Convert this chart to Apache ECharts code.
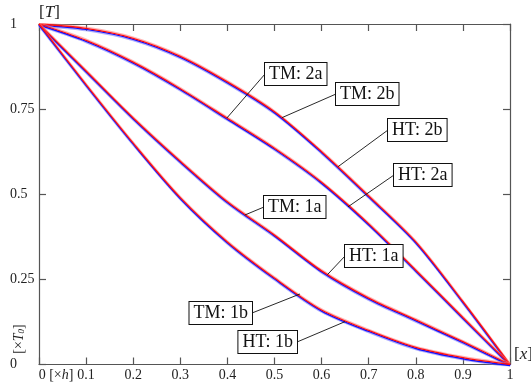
<!DOCTYPE html>
<html>
<head>
<meta charset="utf-8">
<script src="https://cdn.jsdelivr.net/npm/echarts@6/dist/echarts.min.js"></script>
<style>html,body{margin:0;padding:0;background:#fff}#c{width:531px;height:385px}</style>
</head>
<body>
<div id="c"></div>
<script>
// ---- data ----
const xValues = [0, 0.1, 0.2, 0.3, 0.4, 0.5, 0.6, 0.7, 0.8, 0.9, 1];
const curve2b = [1, 0.987, 0.958, 0.905, 0.830, 0.742, 0.625, 0.495, 0.360, 0.185, 0];
const curve2a = [1, 0.952, 0.888, 0.810, 0.723, 0.635, 0.535, 0.413, 0.277, 0.138, 0];
const curve1a = [1, 0.862, 0.724, 0.597, 0.478, 0.380, 0.275, 0.195, 0.131, 0.067, 0];
const curve1b = [1, 0.822, 0.650, 0.490, 0.360, 0.254, 0.160, 0.100, 0.050, 0.020, 0];
const xTicks = [0, 0.1, 0.2, 0.3, 0.4, 0.5, 0.6, 0.7, 0.8, 0.9, 1];
const yTicks = [0, 0.25, 0.5, 0.75, 1];
const labelTexts = ['TM: 2a', 'TM: 2b', 'HT: 2b', 'HT: 2a', 'TM: 1a', 'HT: 1a', 'TM: 1b', 'HT: 1b'];
const labelAnchorX = [0.399, 0.516, 0.635, 0.656, 0.437, 0.6125, 0.554, 0.650];
const labelAnchorY = [0.724, 0.725, 0.581, 0.463, 0.439, 0.264, 0.207, 0.126];

// ---- layout (pixels) for the label boxes: [attachX, attachY, side] ----
const boxLayout = [
  [265, 74, 'left'], [336, 94, 'left'], [388, 130, 'left'], [394, 175, 'left'],
  [264, 207, 'left'], [345, 256, 'left'], [252, 313, 'right'], [297, 342, 'right']
];

const FONT = '"Liberation Serif", "Times New Roman", serif';
const TICK_FS = 14;
const curves = [curve2b, curve2a, curve1a, curve1b];
const pairs = c => xValues.map((x, i) => [x, c[i]]);

const chart = echarts.init(document.getElementById('c'), null, {renderer: 'canvas'});

const axisCol = '#555';
const gridBase = {left: 39, width: 471, top: 24, height: 340.5};

function xAxisDef(gridIndex, pos, show, labels) {
  return {
    type: 'value', gridIndex, position: pos, min: 0, max: 1, interval: 0.1, show,
    axisLine: {show: true, onZero: false, lineStyle: {color: axisCol, width: 1.2}},
    axisTick: {show: true, inside: true, length: 7, lineStyle: {color: axisCol, width: 1.2}},
    splitLine: {show: false},
    axisLabel: labels ? {
      show: true, margin: 4, color: '#222', fontFamily: FONT, fontSize: TICK_FS,
      customValues: xTicks,
      formatter: v => v === 0 ? '{pad| }{z|0 [×}{zi|h}{z|]}' : (v === 1 ? '{z|1}' : '{z|' + v.toFixed(1) + '}'),
      rich: {
        pad: {width: 34, fontFamily: FONT, fontSize: TICK_FS},
        z: {fontFamily: FONT, fontSize: TICK_FS, color: '#222'},
        zi: {fontFamily: FONT, fontSize: TICK_FS, fontStyle: 'italic', color: '#222'}
      }
    } : {show: false}
  };
}
function yAxisDef(gridIndex, pos, show, labels) {
  return {
    type: 'value', gridIndex, position: pos, min: 0, max: 1, interval: 0.25, show,
    axisLine: {show: true, onZero: false, lineStyle: {color: axisCol, width: 1.2}},
    axisTick: {show: true, inside: true, length: 7, lineStyle: {color: axisCol, width: 1.2}},
    splitLine: {show: false},
    axisLabel: labels ? {
      show: true, margin: 29, align: 'left', color: '#222', fontFamily: FONT, fontSize: TICK_FS,
      padding: [5, 0, 0, 0],
      customValues: yTicks,
      formatter: v => String(v)
    } : {show: false}
  };
}

const series = [];
curves.forEach((c, k) => {
  series.push({
    name: 'TM ' + k, type: 'line', xAxisIndex: 3, yAxisIndex: 3, data: pairs(c),
    showSymbol: false, smooth: 0.3, silent: true, z: 2,
    lineStyle: {color: '#1010ff', width: 1.4, shadowColor: 'rgba(110,110,255,0.55)', shadowOffsetY: 1.2, shadowBlur: 0}
  });
});
curves.forEach((c, k) => {
  series.push({
    name: 'HT ' + k, type: 'line', xAxisIndex: 0, yAxisIndex: 0, data: pairs(c),
    showSymbol: false, smooth: 0.3, silent: true, z: 3,
    lineStyle: {color: '#ff1010', width: 1.3, shadowColor: 'rgba(255,120,120,0.55)', shadowOffsetY: -1.2, shadowBlur: 0}
  });
});

chart.setOption({
  animation: false,
  backgroundColor: '#fff',
  textStyle: {fontFamily: FONT},
  grid: [
    Object.assign({}, gridBase),
    Object.assign({}, gridBase, {top: 25})
  ],
  xAxis: [
    xAxisDef(0, 'bottom', true, true),
    xAxisDef(0, 'top', true, false),
    xAxisDef(1, 'bottom', false, false),
    xAxisDef(1, 'bottom', false, false)
  ],
  yAxis: [
    yAxisDef(0, 'left', true, true),
    yAxisDef(0, 'right', true, false),
    yAxisDef(1, 'left', false, false),
    yAxisDef(1, 'left', false, false)
  ],
  series
});

const graphics = [];
labelTexts.forEach((t, i) => {
  const p = chart.convertToPixel({xAxisIndex: 0, yAxisIndex: 0}, [labelAnchorX[i], labelAnchorY[i]]);
  const [bx, by, side] = boxLayout[i];
  graphics.push({
    type: 'line', silent: true, z: 10,
    shape: {x1: p[0], y1: p[1], x2: bx, y2: by},
    style: {stroke: '#111', lineWidth: 0.9}
  });
  graphics.push({
    type: 'text', silent: true, z: 11,
    x: bx, y: by,
    style: {
      text: t, fontFamily: FONT, fontSize: 18, fill: '#111',
      align: side === 'left' ? 'left' : 'right', verticalAlign: 'middle',
      backgroundColor: '#fff', borderColor: '#111', borderWidth: 1,
      padding: [2, 4, 0, 4], lineHeight: 20
    }
  });
});
// axis name texts
graphics.push({
  type: 'text', silent: true, x: 49.5, y: 13,
  style: {
    text: '{a|[}{i|T}{a|]}', align: 'center', verticalAlign: 'middle',
    rich: {
      a: {fontFamily: FONT, fontSize: 17, fill: '#222'},
      i: {fontFamily: FONT, fontSize: 17, fontStyle: 'italic', fill: '#222'}
    }
  }
});
graphics.push({
  type: 'text', silent: true, x: 514, y: 355,
  style: {
    text: '{a|[}{i|x}{a|]}', align: 'left', verticalAlign: 'middle',
    rich: {
      a: {fontFamily: FONT, fontSize: 17, fill: '#222'},
      i: {fontFamily: FONT, fontSize: 17, fontStyle: 'italic', fill: '#222'}
    }
  }
});
graphics.push({
  type: 'text', silent: true, x: 19, y: 339, rotation: Math.PI / 2,
  style: {
    text: '{a|[×}{i|T}{s|0}{a|]}', align: 'center', verticalAlign: 'middle',
    rich: {
      a: {fontFamily: FONT, fontSize: 14, fill: '#222'},
      i: {fontFamily: FONT, fontSize: 14, fontStyle: 'italic', fill: '#222'},
      s: {fontFamily: FONT, fontSize: 9, fontStyle: 'italic', fill: '#222', padding: [6, 0, 0, 0]}
    }
  }
});
chart.setOption({graphic: graphics});
</script>
</body>
</html>
